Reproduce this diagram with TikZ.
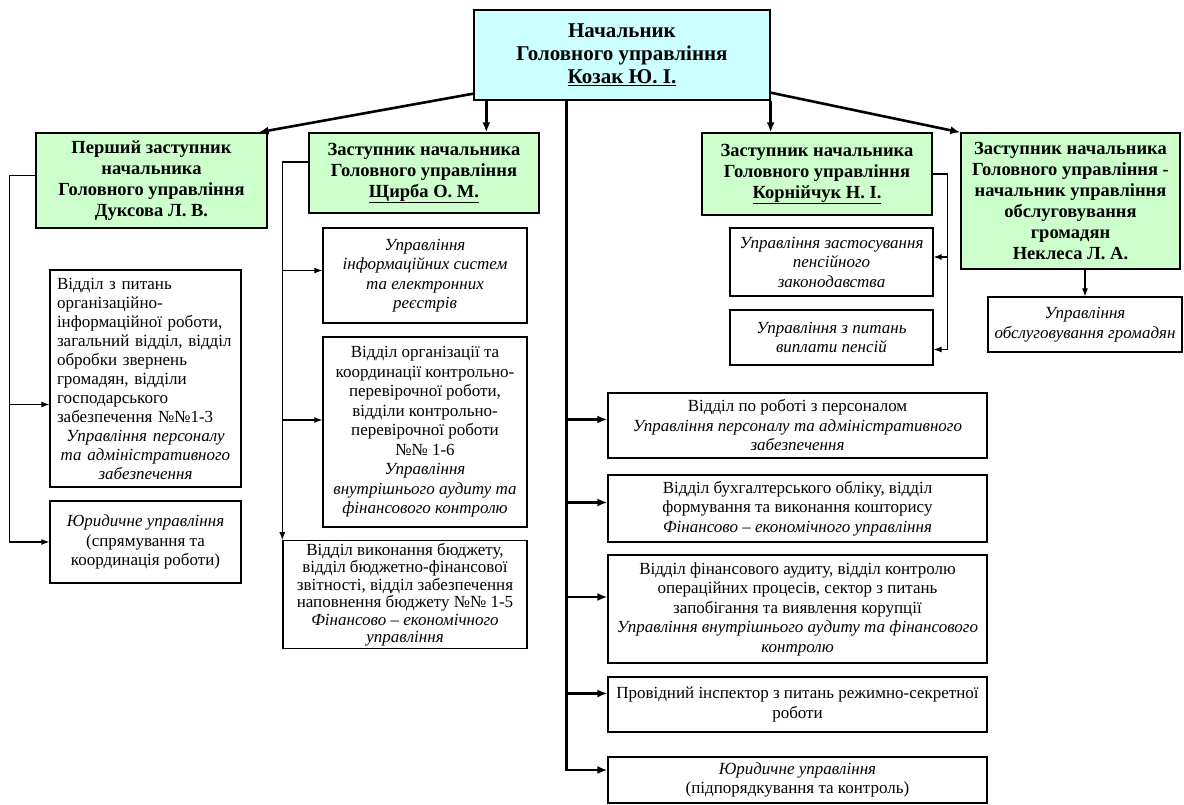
\documentclass[tikz,border=0pt]{standalone}
\usepackage{fontspec}
\setmainfont{Liberation Serif}
\usepackage{tikz}
\usetikzlibrary{positioning,arrows.meta}

\definecolor{headcyan}{RGB}{204,255,255}
\definecolor{deputygreen}{RGB}{204,255,204}

\begin{document}
\begin{tikzpicture}[
    x=1pt, y=-1pt,
    unit/.style={draw, line width=1.3pt, fill=white, align=center, inner xsep=3pt, inner ysep=2pt, font=\fontsize{17}{19.5}\selectfont},
    deputy/.style={unit, fill=deputygreen, font=\fontsize{18.5}{21}\selectfont\bfseries},
    headbox/.style={unit, fill=headcyan, font=\fontsize{21}{23}\selectfont\bfseries},
    mainline/.style={line width=2.6pt},
    mainarrow/.style={-{Latex[length=10pt,width=8pt]}, line width=2.6pt},
    subline/.style={line width=1.1pt},
    subarrow/.style={-{Latex[length=8pt,width=6pt]}, line width=1.1pt}
  ]
    \useasboundingbox (0,0) rectangle (1184,805);

    \node[headbox, minimum width=296pt, minimum height=90pt] (head) at (622,55) {Начальник\\Головного управління\\\underline{Козак Ю. І.}};

    \node[deputy, minimum width=231pt, minimum height=95pt] (dep1) at (151.5,180.5) {Перший заступник\\начальника\\Головного управління\\Дуксова Л. В.};
    \node[deputy, minimum width=230pt, minimum height=80pt] (dep2) at (424,173) {Заступник начальника\\Головного управління\\\underline{Щирба О. М.}};
    \node[deputy, minimum width=230pt, minimum height=82pt] (dep3) at (817,174) {Заступник начальника\\Головного управління\\\underline{Корнійчук Н. І.}};
    \node[deputy, minimum width=219pt, minimum height=136pt] (dep4) at (1070.5,201) {Заступник начальника\\Головного управління -\\начальник управління\\обслуговування\\громадян\\Неклеса Л. А.};

    \node[unit, text width=177pt, minimum width=191pt, minimum height=217pt, font=\fontsize{17}{19}\selectfont] (l1) at (145.5,378.5) {\raggedright Відділ з питань\\організаційно-\\інформаційної роботи,\\загальний відділ, відділ\\обробки звернень\\громадян, відділи\\господарського\\забезпечення №№1-3\par\centering\itshape Управління персоналу\\та адміністративного\\забезпечення};
    \node[unit, minimum width=191pt, minimum height=82pt] (l2) at (145.5,542) {\itshape Юридичне управління\\(спрямування та\\координація роботи)};

    \node[unit, minimum width=204pt, minimum height=95pt] (m1) at (425,275.5) {\itshape Управління\\\itshape інформаційних систем\\\itshape та електронних\\\itshape реєстрів};
    \node[unit, minimum width=204pt, minimum height=190pt] (m2) at (425,432) {Відділ організації та\\координації контрольно-\\перевірочної роботи,\\відділи контрольно-\\перевірочної роботи\\№№ 1-6\\\itshape Управління\\\itshape внутрішнього аудиту та\\\itshape фінансового контролю};
    \node[unit, minimum width=244pt, minimum height=107pt, font=\fontsize{17}{17.5}\selectfont] (m3) at (405,594.5) {Відділ виконання бюджету,\\відділ бюджетно-фінансової\\звітності, відділ забезпечення\\наповнення бюджету №№ 1-5\\\itshape Фінансово – економічного\\\itshape управління};

    \node[unit, minimum width=379pt, minimum height=65pt] (r1) at (797.5,425.5) {Відділ по роботі з персоналом\\\itshape Управління персоналу та адміністративного\\\itshape забезпечення};
    \node[unit, minimum width=379pt, minimum height=67pt] (r2) at (797.5,508.5) {Відділ бухгалтерського обліку, відділ\\формування та виконання кошторису\\\itshape Фінансово – економічного управління};
    \node[unit, minimum width=379pt, minimum height=108pt] (r3) at (797.5,609) {Відділ фінансового аудиту, відділ контролю\\операційних процесів, сектор з питань\\запобігання та виявлення корупції\\\itshape Управління внутрішнього аудиту та фінансового\\\itshape контролю};
    \node[unit, minimum width=379pt, minimum height=55pt] (r4) at (797.5,704.5) {Провідний інспектор з питань режимно-секретної\\роботи};
    \node[unit, minimum width=379pt, minimum height=46pt] (r5) at (797.5,780) {\itshape Юридичне управління\\(підпорядкування та контроль)};

    \node[unit, minimum width=203pt, minimum height=68pt] (k1) at (831.5,262) {\itshape Управління застосування\\\itshape пенсійного\\\itshape законодавства};
    \node[unit, minimum width=203pt, minimum height=55pt] (k2) at (831.5,337.5) {\itshape Управління з питань\\\itshape виплати пенсій};

    \node[unit, minimum width=194pt, minimum height=55pt] (n1) at (1085,324.5) {\itshape Управління\\\itshape обслуговування громадян};

    \coordinate (d2top) at ([xshift=13pt]head.south west);
    \coordinate (bus) at ([xshift=93pt]head.south west);
    \draw[mainarrow] ([yshift=7pt]head.south west) -- ([xshift=-9pt]dep1.north east);
    \draw[mainarrow] (d2top) -- (d2top |- dep2.north);
    \draw[mainarrow] (head.south east) -- (head.south east |- dep3.north);
    \draw[mainarrow] ([yshift=8pt]head.south east) -- (dep4.north west);

    \coordinate (r5in) at ([yshift=10pt]r5.west);
    \draw[mainarrow] (bus) |- (r5in);
    \foreach \n/\s in {r1/6, r2/6, r3/12, r4/11} {
      \coordinate (\n-in) at ([yshift=\s pt]\n.west);
      \draw[mainarrow] (bus |- \n-in) -- (\n-in);
    }

    \coordinate (d1out) at ([yshift=5pt]dep1.west);
    \coordinate (lbus) at ([xshift=-26pt]d1out);
    \coordinate (l1in) at ([yshift=-26pt]l1.west);
    \draw[subarrow] (d1out) -- (lbus) |- (l2.west);
    \draw[subarrow] (lbus |- l1in) -- (l1in);

    \coordinate (d2out) at ([yshift=11pt]dep2.west);
    \coordinate (mbus) at ([xshift=-26pt]d2out);
    \coordinate (m1in) at ([yshift=5pt]m1.west);
    \coordinate (m2in) at ([yshift=12pt]m2.west);
    \draw[subarrow] (d2out) -- (mbus) -- (mbus |- m3.north);
    \draw[subarrow] (mbus |- m1in) -- (m1in);
    \draw[subarrow] (mbus |- m2in) -- (m2in);

    \coordinate (kbus) at ([xshift=15pt]dep3.east);
    \coordinate (k1in) at ([yshift=5pt]k1.east);
    \coordinate (k2in) at ([yshift=-12pt]k2.east);
    \draw[subline] (dep3.east) -- (kbus) -- (kbus |- k2in);
    \draw[subarrow] (kbus |- k1in) -- (k1in);
    \draw[subarrow] (kbus |- k2in) -- (k2in);

    \draw[subarrow] (dep4.south -| n1.north) -- (n1.north);
  \end{tikzpicture}
\end{document}
